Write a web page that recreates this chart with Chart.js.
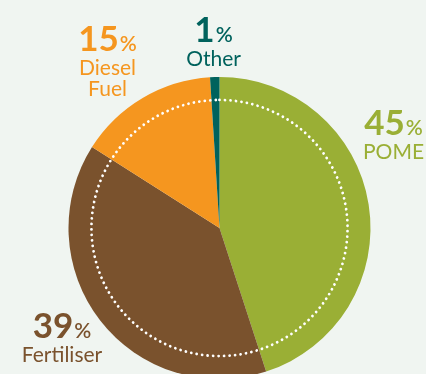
<!DOCTYPE html>
<html>
<head>
<meta charset="utf-8">
<script src="https://cdn.jsdelivr.net/npm/chart.js@4/dist/chart.umd.min.js"></script>
<style>
  html, body { margin: 0; padding: 0; background: #f0f5f1; overflow: hidden; }
  #wrap { position: relative; width: 426px; height: 390px; }
</style>
</head>
<body>
<div id="wrap"><canvas id="c" width="426" height="390"></canvas></div>
<script>
// Emission sources, share of total (%)
const categories = ['POME', 'Fertiliser', 'Diesel Fuel', 'Other'];
const shares = [45, 39, 15, 1];
const sliceColors = ['#9aaf35', '#7a522d', '#f5961f', '#00625d'];

// Caption lines under each percentage
const captionLines = [['POME'], ['Fertiliser'], ['Diesel', 'Fuel'], ['Other']];
// Caption anchor, as an offset from the pie centre (x centre, number baseline)
const captionOffsets = [[174, -93], [-157.5, 110], [-112, -177], [-6, -186]];

const FONT = 'Lato, "Open Sans", sans-serif';

const decorations = {
  id: 'decorations',
  afterDatasetsDraw(chart) {
    const ctx = chart.ctx;
    const arc = chart.getDatasetMeta(0).data[0];
    const cx = arc.x, cy = arc.y, r = arc.outerRadius;

    // dotted inner ring
    const ringR = r * 0.848;
    const dots = 146;
    ctx.save();
    ctx.strokeStyle = '#ffffff';
    ctx.lineWidth = 2.8;
    ctx.lineCap = 'round';
    ctx.setLineDash([0.01, (2 * Math.PI * ringR) / dots]);
    ctx.beginPath();
    ctx.arc(cx, cy, ringR, -Math.PI / 2, 1.5 * Math.PI);
    ctx.stroke();
    ctx.restore();

    // percentage captions
    ctx.save();
    ctx.textBaseline = 'alphabetic';
    ctx.textAlign = 'left';
    shares.forEach((v, i) => {
      const [dx, dy] = captionOffsets[i];
      const x = cx + dx, y = cy + dy;
      const num = String(v);
      ctx.fillStyle = sliceColors[i];
      ctx.font = 'bold 35px ' + FONT;
      const wNum = ctx.measureText(num).width;
      ctx.font = '600 21px ' + FONT;
      const wPct = ctx.measureText('%').width;
      const gap = 1;
      const start = x - (wNum + gap + wPct) / 2;
      ctx.font = 'bold 35px ' + FONT;
      ctx.fillText(num, start, y);
      ctx.font = '600 21px ' + FONT;
      ctx.fillText('%', start + wNum + gap, y);

      ctx.font = '21px ' + FONT;
      ctx.textAlign = 'center';
      captionLines[i].forEach((line, k) => {
        ctx.fillText(line, x, y + 24 + k * 21);
      });
      ctx.textAlign = 'left';
    });
    ctx.restore();
  }
};

new Chart(document.getElementById('c'), {
  type: 'pie',
  data: {
    labels: categories,
    datasets: [{
      data: shares,
      backgroundColor: sliceColors,
      borderWidth: 0
    }]
  },
  options: {
    responsive: false,
    animation: false,
    layout: { padding: { left: 68.5, right: 55.5, top: 77, bottom: 11 } },
    plugins: {
      legend: { display: false },
      tooltip: { enabled: false }
    }
  },
  plugins: [decorations]
});
</script>
</body>
</html>
